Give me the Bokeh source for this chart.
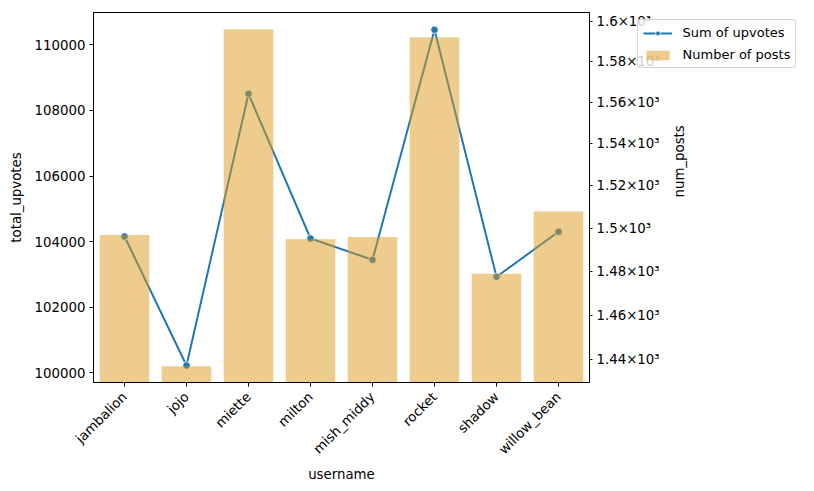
import math
from bokeh.plotting import figure
from bokeh.models import (Range1d, LogScale, LogAxis, FixedTicker, BasicTickFormatter,
                          Legend, LegendItem, ColumnDataSource)
from bokeh.embed import file_html
from bokeh.resources import INLINE

usernames = ["jambalion", "jojo", "miette", "milton", "mish_middy", "rocket", "shadow", "willow_bean"]
total_upvotes = [104155, 100222, 108505, 104095, 103445, 110457, 102927, 104300]
num_posts = [1497, 1437, 1596, 1495, 1496, 1592, 1479, 1508]
left_ticks = [100000, 102000, 104000, 106000, 108000, 110000]
right_ticks = [1440, 1460, 1480, 1500, 1520, 1540, 1560, 1580, 1600]
right_tick_labels = ["1.44×10³", "1.46×10³", "1.48×10³", "1.5×10³", "1.52×10³",
                     "1.54×10³", "1.56×10³", "1.58×10³", "1.6×10³"]

FONT = "DejaVu Sans"
FS = "13.33px"

src = ColumnDataSource(dict(username=usernames, upvotes=total_upvotes, posts=num_posts,
                            base=[1000] * len(usernames)))

p = figure(x_range=usernames, y_range=Range1d(99704, 110985),
           frame_width=496, frame_height=370,
           min_border_left=93, min_border_top=12, min_border_right=100, min_border_bottom=109,
           output_backend="svg", toolbar_location=None)
p.extra_y_ranges = {"posts": Range1d(1429.8, 1604.3)}
p.extra_y_scales = {"posts": LogScale()}

p.xgrid.visible = False
p.ygrid.visible = False
p.outline_line_color = "black"
p.outline_line_width = 1
p.outline_line_alpha = 1

line_r = p.line("username", "upvotes", source=src, line_color="#1f77b4", line_width=2)
marker_r = p.scatter("username", "upvotes", source=src, size=7.5, fill_color="#1f77b4",
                     line_color="white", line_width=0.8)
bar_r = p.vbar(x="username", top="posts", bottom="base", width=0.8, source=src,
               y_range_name="posts", fill_color="#DB991B", fill_alpha=0.5, line_color=None)

def style_axis(ax):
    ax.axis_line_color = "black"
    ax.major_tick_line_color = "black"
    ax.major_tick_in = 0
    ax.major_tick_out = 4
    ax.minor_tick_line_color = None
    ax.major_label_text_font = FONT
    ax.major_label_text_font_size = FS
    ax.major_label_text_color = "black"
    ax.axis_label_text_font = FONT
    ax.axis_label_text_font_size = FS
    ax.axis_label_text_font_style = "normal"
    ax.axis_label_text_color = "black"

xa = p.xaxis[0]
style_axis(xa)
xa.axis_label = "username"
xa.major_label_orientation = math.pi / 4
xa.major_label_standoff = 8
xa.axis_label_standoff = 2

ya = p.yaxis[0]
style_axis(ya)
ya.axis_label = "total_upvotes"
ya.ticker = FixedTicker(ticks=left_ticks)
ya.formatter = BasicTickFormatter(use_scientific=False)
ya.major_label_standoff = 4
ya.axis_label_standoff = 8

ra = LogAxis(y_range_name="posts", axis_label="num_posts")
style_axis(ra)
ra.ticker = FixedTicker(ticks=right_ticks)
ra.major_label_overrides = {t: l for t, l in zip(right_ticks, right_tick_labels)}
ra.major_tick_out = 3
ra.major_label_standoff = 4
ra.axis_label_standoff = 17
if "axis_label_orientation" in ra.properties():
    ra.axis_label_orientation = math.pi / 2
p.add_layout(ra, "right")

legend = Legend(items=[LegendItem(label="Sum of upvotes", renderers=[line_r, marker_r]),
                       LegendItem(label="Number of posts", renderers=[bar_r])],
                location=(-256, 314))
legend.label_text_font = FONT
legend.label_text_font_size = "13px"
legend.label_text_color = "black"
legend.border_line_color = "#cccccc"
legend.border_line_alpha = 0.8
legend.background_fill_alpha = 0.8
legend.glyph_width = 29
legend.glyph_height = 12
legend.spacing = 7
legend.padding = 5
legend.margin = -40
legend.label_standoff = 11
if "border_radius" in legend.properties():
    legend.border_radius = 3
p.add_layout(legend, "right")

open("out.html", "w").write(file_html(p, INLINE))
